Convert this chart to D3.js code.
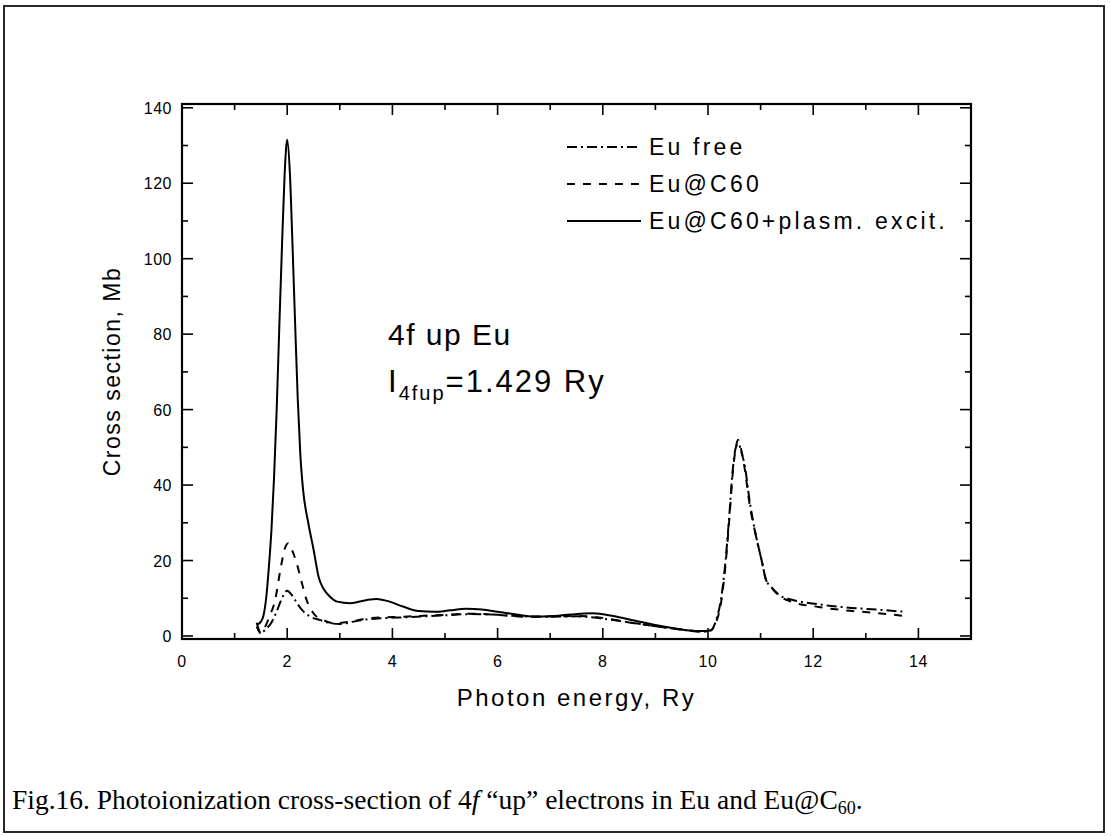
<!DOCTYPE html>
<html>
<head>
<meta charset="utf-8">
<script src="https://cdn.jsdelivr.net/npm/d3@7"></script>
<style>
  body { margin: 0; background: #fff; }
  svg { display: block; }
  text { font-family: "Liberation Sans", Arial, Helvetica, sans-serif; fill: #000; }
</style>
</head>
<body>
<div id="chart"></div>
<script>
// Eu free (dash-dot)
const freeE = [1.42, 1.5, 1.58, 1.71, 1.8, 1.9, 2.0, 2.08, 2.15, 2.28, 2.44, 2.63, 2.82, 3.0, 3.4, 3.8, 4.3, 4.9, 5.5, 6.0, 6.5, 7.0, 7.5, 8.0, 8.5, 9.0, 9.5, 9.9, 10.05, 10.15, 10.25, 10.32, 10.4, 10.47, 10.53, 10.58, 10.63, 10.7, 10.8, 10.92, 11.02, 11.1, 11.2, 11.36, 11.6, 12.1, 12.6, 13.2, 13.75];
const freeSigma = [3.5, 0.8, 1.6, 3.8, 6.5, 10, 12, 11, 9.5, 6.9, 5.1, 4.2, 3.4, 3.2, 4.2, 4.7, 5.0, 5.4, 5.8, 5.6, 5.2, 5.1, 5.2, 4.6, 3.6, 2.6, 1.7, 1.1, 1.4, 4, 10, 18, 31, 44, 50, 51, 49, 45, 35, 26, 20, 15, 13, 10.8, 9.6, 8.4, 7.6, 7.0, 6.4];

// Eu@C60 (dashed)
const c60E = [1.42, 1.5, 1.55, 1.66, 1.77, 1.87, 1.95, 2.02, 2.1, 2.18, 2.28, 2.37, 2.5, 2.69, 2.88, 3.2, 3.55, 4.0, 4.5, 5.0, 5.5, 6.0, 6.5, 7.0, 7.5, 8.0, 8.5, 9.0, 9.5, 9.9, 10.05, 10.15, 10.25, 10.32, 10.4, 10.47, 10.53, 10.57, 10.62, 10.69, 10.79, 10.92, 11.02, 11.1, 11.2, 11.36, 11.6, 12.1, 12.6, 13.2, 13.75];
const c60Sigma = [2.5, 0.7, 1.6, 5.1, 9.5, 17.5, 23, 24.6, 22.5, 19.3, 14, 9.5, 6.0, 4.2, 3.4, 3.8, 4.7, 5.0, 5.3, 5.6, 5.9, 5.6, 5.1, 5.2, 5.3, 4.8, 3.6, 2.6, 1.7, 1.2, 1.5, 3.5, 9, 17, 30, 43, 50, 52, 50, 45, 35, 26, 20, 15, 13, 10.6, 9.0, 7.7, 6.8, 6.1, 5.3];

// Eu@C60 + plasmon excitation (solid)
const plasmE = [1.43, 1.5, 1.55, 1.6, 1.65, 1.7, 1.75, 1.8, 1.85, 1.9, 1.95, 2.0, 2.05, 2.1, 2.15, 2.2, 2.25, 2.3, 2.4, 2.5, 2.6, 2.7, 2.8, 2.95, 3.2, 3.5, 3.7, 3.9, 4.2, 4.5, 4.8, 5.1, 5.4, 5.7, 6.0, 6.3, 6.7, 7.0, 7.4, 7.8, 8.2, 8.6, 9.0, 9.5, 9.8, 10.0];
const plasmSigma = [3.0, 3.8, 5.5, 10, 18, 28, 42, 60, 82, 103, 122, 131.5, 123, 104, 83, 63, 48, 39, 30, 23, 15.5, 12.3, 10.6, 9.1, 8.7, 9.5, 9.8, 9.3, 7.8, 6.6, 6.4, 6.8, 7.2, 7.0, 6.4, 5.8, 5.1, 5.2, 5.7, 6.0, 5.3, 4.1, 2.9, 1.7, 1.3, 1.3];

const xTicks = [0, 2, 4, 6, 8, 10, 12, 14];
const yTicks = [0, 20, 40, 60, 80, 100, 120, 140];
const legendLabels = ["Eu free", "Eu@C60", "Eu@C60+plasm. excit."];

const W = 1111, H = 836;
const svg = d3.select("#chart").append("svg")
    .attr("width", W)
    .attr("height", H);

svg.append("rect")
    .attr("x", 4).attr("y", 6)
    .attr("width", 1100).attr("height", 826)
    .attr("fill", "#fff")
    .attr("stroke", "#111")
    .attr("stroke-width", 1.8);

const pLeft = 182, pRight = 971, pTop = 104, pBottom = 639;
const x = d3.scaleLinear().domain([0, 15]).range([pLeft, pRight]);
const y = d3.scaleLinear().domain([-0.8, 141]).range([pBottom, pTop]);

// axes: ticks inward on all four sides
const majorLen = 11, minorLen = 6;
const axes = svg.append("g").attr("stroke", "#000").attr("stroke-width", 1.6);
d3.range(0, 16, 1).forEach(v => {
    const len = v % 2 === 0 ? majorLen : minorLen;
    axes.append("line").attr("x1", x(v)).attr("x2", x(v)).attr("y1", pBottom).attr("y2", pBottom - len);
    axes.append("line").attr("x1", x(v)).attr("x2", x(v)).attr("y1", pTop).attr("y2", pTop + len);
});
d3.range(0, 141, 10).forEach(v => {
    const len = v % 20 === 0 ? majorLen : minorLen;
    axes.append("line").attr("y1", y(v)).attr("y2", y(v)).attr("x1", pLeft).attr("x2", pLeft + len);
    axes.append("line").attr("y1", y(v)).attr("y2", y(v)).attr("x1", pRight).attr("x2", pRight - len);
});
svg.append("rect")
    .attr("x", pLeft).attr("y", pTop)
    .attr("width", pRight - pLeft).attr("height", pBottom - pTop)
    .attr("fill", "none").attr("stroke", "#000").attr("stroke-width", 2.2);

svg.append("g").selectAll("text").data(xTicks).join("text")
    .attr("x", d => x(d)).attr("y", pBottom + 28)
    .attr("text-anchor", "middle")
    .attr("font-size", 16)
    .style("letter-spacing", "0.5px")
    .text(d => d);
svg.append("g").selectAll("text").data(yTicks).join("text")
    .attr("x", pLeft - 10).attr("y", d => y(d) + 6)
    .attr("text-anchor", "end")
    .attr("font-size", 16)
    .style("letter-spacing", "0.5px")
    .text(d => d);

svg.append("text")
    .attr("x", (pLeft + pRight) / 2).attr("y", 706)
    .attr("text-anchor", "middle")
    .attr("font-size", 24)
    .style("letter-spacing", "2.5px")
    .text("Photon energy, Ry");
svg.append("text")
    .attr("transform", `translate(120,${(pTop + pBottom) / 2}) rotate(-90)`)
    .attr("text-anchor", "middle")
    .attr("font-size", 23)
    .style("letter-spacing", "1.5px")
    .text("Cross section, Mb");

// curves
const line = d3.line()
    .x(d => x(d[0]))
    .y(d => y(d[1]))
    .curve(d3.curveMonotoneX);
const series = [
    { e: freeE, s: freeSigma, dash: "10,4,2,4" },
    { e: c60E, s: c60Sigma, dash: "8,8" },
    { e: plasmE, s: plasmSigma, dash: null }
];
series.forEach(sr => {
    svg.append("path")
        .datum(d3.zip(sr.e, sr.s))
        .attr("fill", "none")
        .attr("stroke", "#000")
        .attr("stroke-width", 2)
        .attr("stroke-dasharray", sr.dash)
        .attr("d", line);
});

// legend
const lg = svg.append("g");
series.forEach((sr, i) => {
    const ly = 147 + i * 37;
    lg.append("line")
        .attr("x1", 567).attr("x2", 641)
        .attr("y1", ly).attr("y2", ly)
        .attr("stroke", "#000").attr("stroke-width", 2)
        .attr("stroke-dasharray", sr.dash);
    lg.append("text")
        .attr("x", 649).attr("y", ly + 8)
        .attr("font-size", 23)
        .style("letter-spacing", "3.2px")
        .text(legendLabels[i]);
});

// annotation
svg.append("text")
    .attr("x", 388).attr("y", 345)
    .attr("font-size", 30)
    .style("letter-spacing", "1.5px")
    .text("4f up Eu");
const ann = svg.append("text")
    .attr("x", 388).attr("y", 392)
    .attr("font-size", 31)
    .style("letter-spacing", "2px");
ann.append("tspan").text("I");
ann.append("tspan").attr("font-size", 20).attr("dy", 8).text("4fup");
ann.append("tspan").attr("dy", -8).text("=1.429 Ry");

// caption
const cap = svg.append("text")
    .attr("x", 12).attr("y", 809)
    .style("font-family", "'Liberation Serif', 'Times New Roman', serif")
    .attr("font-size", 27.5);
cap.append("tspan").text("Fig.16. Photoionization cross-section of 4");
cap.append("tspan").style("font-style", "italic").text("f");
cap.append("tspan").text(" \u201Cup\u201D electrons in Eu and Eu@C");
cap.append("tspan").attr("font-size", 18).attr("dy", 5).text("60");
cap.append("tspan").attr("dy", -5).text(".");
</script>
</body>
</html>
